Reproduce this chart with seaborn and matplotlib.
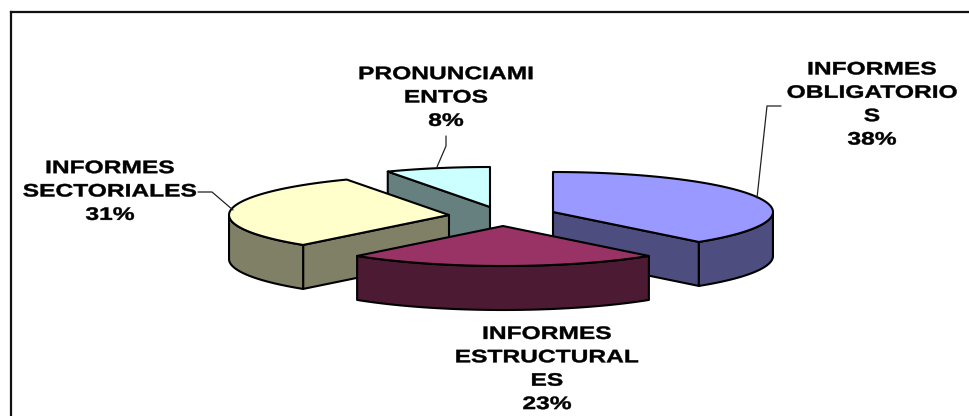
import numpy as np
import matplotlib
matplotlib.use("Agg")
import matplotlib.pyplot as plt
import matplotlib.patheffects as pe
from matplotlib.transforms import Affine2D
import seaborn as sns

categories = ["INFORMES\nOBLIGATORIO\nS", "INFORMES\nESTRUCTURAL\nES",
              "INFORMES\nSECTORIALES", "PRONUNCIAMI\nENTOS"]
counts = [5, 3, 4, 1]
top_colors = ["#9999FF", "#993366", "#FFFFCC", "#CCFFFF"]
side_colors = ["#4D4D80", "#4D1A33", "#808066", "#668080"]

# layout, in pixels of the 969x416 picture
apex = [(553, 212), (503, 226), (449, 215), (490, 207)]
label_xy = [(872, 105), (547, 369.5), (110, 192), (446, 98)]
leaders = [[(781, 106), (767, 106), (757, 198)],
           [],
           [(198, 192), (212, 192), (233, 210)],
           [(437, 167), (446, 146), (446, 136)]]
RX, RY, DEPTH = 220, 40, 44
draw_order = [3, 0, 2, 1]

sns.set_theme(style="white")
fig, ax = plt.subplots(figsize=(9.69, 4.16), dpi=100)
fig.subplots_adjust(0, 0, 1, 1)
ax.set_xlim(0, 969)
ax.set_ylim(416, 0)
ax.axis("off")

top_pal = sns.color_palette(top_colors)
side_pal = sns.color_palette(side_colors)
fractions = np.array(counts) / sum(counts)
edges = np.concatenate([[0], np.cumsum(fractions)]) * 2 * np.pi


class StretchX(pe.AbstractPathEffect):
    def __init__(self, cx, k):
        super().__init__()
        self.cx, self.k = cx, k

    def draw_path(self, renderer, gc, tpath, affine, rgbFace=None):
        t = affine + Affine2D().translate(-self.cx, 0).scale(self.k, 1).translate(self.cx, 0)
        gc0 = renderer.new_gc()
        gc0.copy_properties(gc)
        gc0.set_linewidth(0.3)
        gc0.set_foreground("black")
        renderer.draw_path(gc0, tpath, t, rgbFace)
        gc0.restore()


def rim(c, a, b):
    t = np.linspace(a, b, 80)
    return np.c_[c[0] + RX * np.sin(t), c[1] - RY * np.cos(t)]


def face(points, color, z):
    ax.fill(points[:, 0], points[:, 1], facecolor=color, edgecolor="black",
            linewidth=1.5, joinstyle="round", zorder=z)


for z, i in enumerate(draw_order):
    a, b = edges[i], edges[i + 1]
    c = np.array(apex[i], float)
    arc = rim(c, a, b)
    down = np.array([0, DEPTH])
    base = 10 * z + 2
    if np.sin(a) < -1e-6:
        p = np.array([c, arc[0], arc[0] + down, c + down])
        face(p, side_pal[i], base)
    if np.sin(b) > 1e-6:
        p = np.array([c, arc[-1], arc[-1] + down, c + down])
        face(p, side_pal[i], base)
    front = arc[(np.cos(np.linspace(a, b, 80)) < 0)]
    if len(front):
        face(np.vstack([front, (front + down)[::-1]]), side_pal[i], base + 1)
    face(np.vstack([c, arc]), top_pal[i], base + 2)

ax.plot([11, 11], [416, 12], color="#111111", lw=1.6, zorder=100, solid_capstyle="projecting")
ax.plot([11, 969], [12, 12], color="#111111", lw=1.6, zorder=100, solid_capstyle="projecting")

for i, cat in enumerate(categories):
    pct = round(100 * fractions[i])
    x, y = label_xy[i]
    ax.text(x, y, f"{cat}\n{pct}%", ha="center", va="center", ma="center",
            family="Liberation Sans", weight="bold", fontsize=13, color="black",
            linespacing=1.49, zorder=200, path_effects=[StretchX(x, 1.36)])
    if leaders[i]:
        pts = np.array(leaders[i])
        ax.plot(pts[:, 0], pts[:, 1], color="#222222", lw=0.9, zorder=150)

fig.savefig("out.png", dpi=100, facecolor="white")
